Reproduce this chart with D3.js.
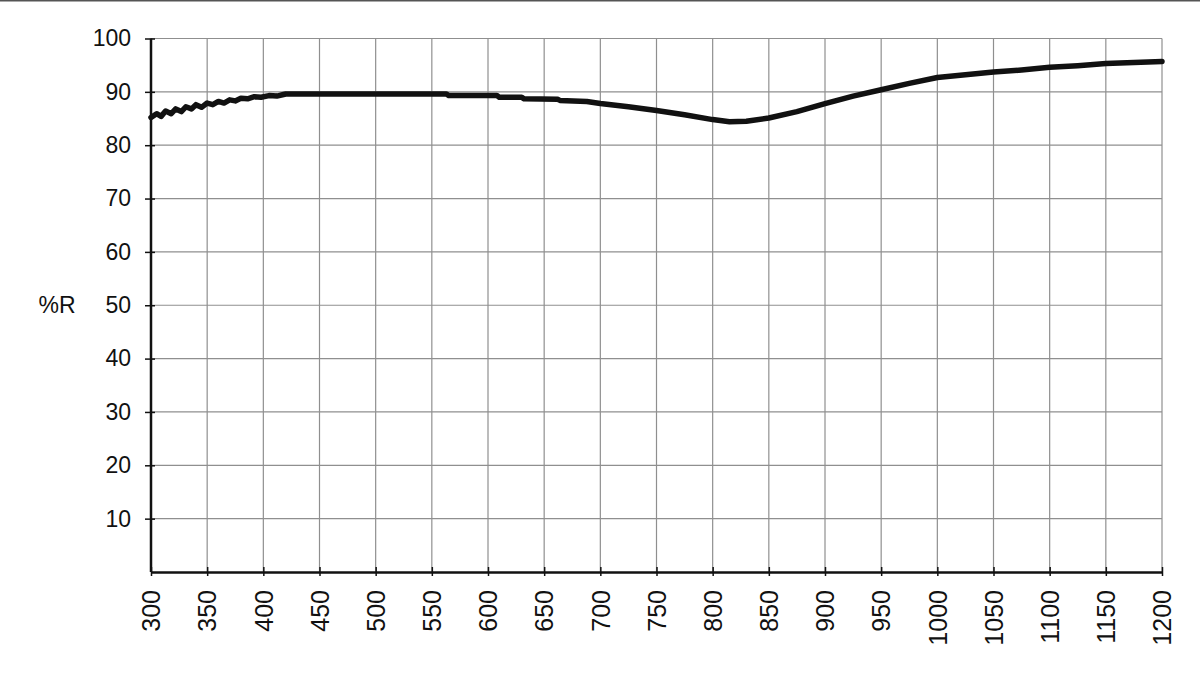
<!DOCTYPE html>
<html>
<head>
<meta charset="utf-8">
<script src="https://cdn.jsdelivr.net/npm/d3@7"></script>
<style>
  html, body { margin: 0; padding: 0; background: #fff; }
  svg { display: block; }
  text { font-family: "Liberation Sans", Arial, sans-serif; fill: #111; }
</style>
</head>
<body>
<svg id="chart" width="1200" height="675"></svg>
<script>
// Data
const wavelength = [300,305,309,313,318,322,327,331,336,340,345,350,355,360,365,370,375,380,386,392,398,405,412,418,420,450,500,550,563,565,608,610,630,632,662,664,688,700,725,750,775,800,815,830,850,875,900,925,950,975,1000,1025,1050,1075,1100,1125,1150,1175,1200];
const reflectance = [85.2,85.9,85.4,86.4,85.9,86.8,86.3,87.2,86.8,87.6,87.1,87.9,87.6,88.2,87.9,88.5,88.3,88.8,88.7,89.1,89.0,89.3,89.2,89.5,89.6,89.6,89.6,89.6,89.6,89.3,89.3,89.0,89.0,88.7,88.6,88.4,88.2,87.8,87.2,86.5,85.7,84.8,84.4,84.5,85.1,86.3,87.8,89.2,90.4,91.6,92.7,93.2,93.7,94.1,94.6,94.9,95.3,95.5,95.7];
const xTicks = [300,350,400,450,500,550,600,650,700,750,800,850,900,950,1000,1050,1100,1150,1200];
const yTicks = [10,20,30,40,50,60,70,80,90,100];
const yGrid = [10,20,30,40,50,60,70,80,90,100];
const yAxisTitle = "%R";

const svg = d3.select("#chart");
const W = 1200, H = 675;
const m = { left: 151, right: 1162, top: 38.5, bottom: 572 };

// top border strip
svg.append("line").attr("x1", 0).attr("x2", W).attr("y1", 0.5).attr("y2", 0.5)
  .attr("stroke", "#555").attr("stroke-width", 2);

const x = d3.scaleLinear().domain([300, 1200]).range([m.left, m.right]);
const y = d3.scaleLinear().domain([0, 100]).range([m.bottom, m.top]);

// grid
const g = svg.append("g");
g.selectAll(".vg").data(xTicks.slice(1)).enter().append("line")
  .attr("x1", d => x(d)).attr("x2", d => x(d))
  .attr("y1", y(100)).attr("y2", y(0))
  .attr("stroke", "#8f8f8f").attr("stroke-width", 1.2);
g.selectAll(".hg").data(yGrid).enter().append("line")
  .attr("x1", x(300)).attr("x2", x(1200))
  .attr("y1", d => y(d)).attr("y2", d => y(d))
  .attr("stroke", "#8f8f8f").attr("stroke-width", 1.2);

// axes
const yAxis = d3.axisLeft(y).tickValues(yTicks).tickSize(6).tickPadding(14).tickFormat(d3.format("d"));
const ya = svg.append("g").attr("transform", `translate(${m.left},0)`).call(yAxis);
ya.select(".domain").attr("stroke", "#111").attr("stroke-width", 2.5)
  .attr("d", `M0,${y(100)}V${y(0)}`);
ya.selectAll(".tick line").attr("stroke", "#111").attr("stroke-width", 1.5).attr("x1", 4).attr("x2", -6);
ya.selectAll(".tick text").attr("font-size", 23).attr("fill", "#111")
  .attr("font-family", "Liberation Sans, Arial, sans-serif");

const xAxis = d3.axisBottom(x).tickValues(xTicks).tickSize(4).tickSizeOuter(0).tickFormat(d3.format("d"));
const xa = svg.append("g").attr("transform", `translate(0,${m.bottom})`).call(xAxis);
xa.select(".domain").attr("stroke", "#111").attr("stroke-width", 2.5);
xa.selectAll(".tick line").attr("stroke", "#111").attr("stroke-width", 1.5).attr("y1", -5).attr("y2", 4);
xa.selectAll(".tick text")
  .attr("font-size", 25).attr("fill", "#111")
  .attr("font-family", "Liberation Sans, Arial, sans-serif")
  .attr("transform", "rotate(-90)")
  .attr("text-anchor", "end")
  .attr("x", -18).attr("y", 0).attr("dy", "0.35em");

// y axis title
svg.append("text").attr("x", 57).attr("y", y(50)).attr("dy", "0.35em")
  .attr("text-anchor", "middle").attr("font-size", 23).text(yAxisTitle);

// curve
const pts = wavelength.map((w, i) => [w, reflectance[i]]);
const line = d3.line().x(d => x(d[0])).y(d => y(d[1]));
svg.append("path").datum(pts).attr("d", line)
  .attr("fill", "none").attr("stroke", "#111").attr("stroke-width", 5.5)
  .attr("stroke-linejoin", "round").attr("stroke-linecap", "round");
</script>
</body>
</html>
